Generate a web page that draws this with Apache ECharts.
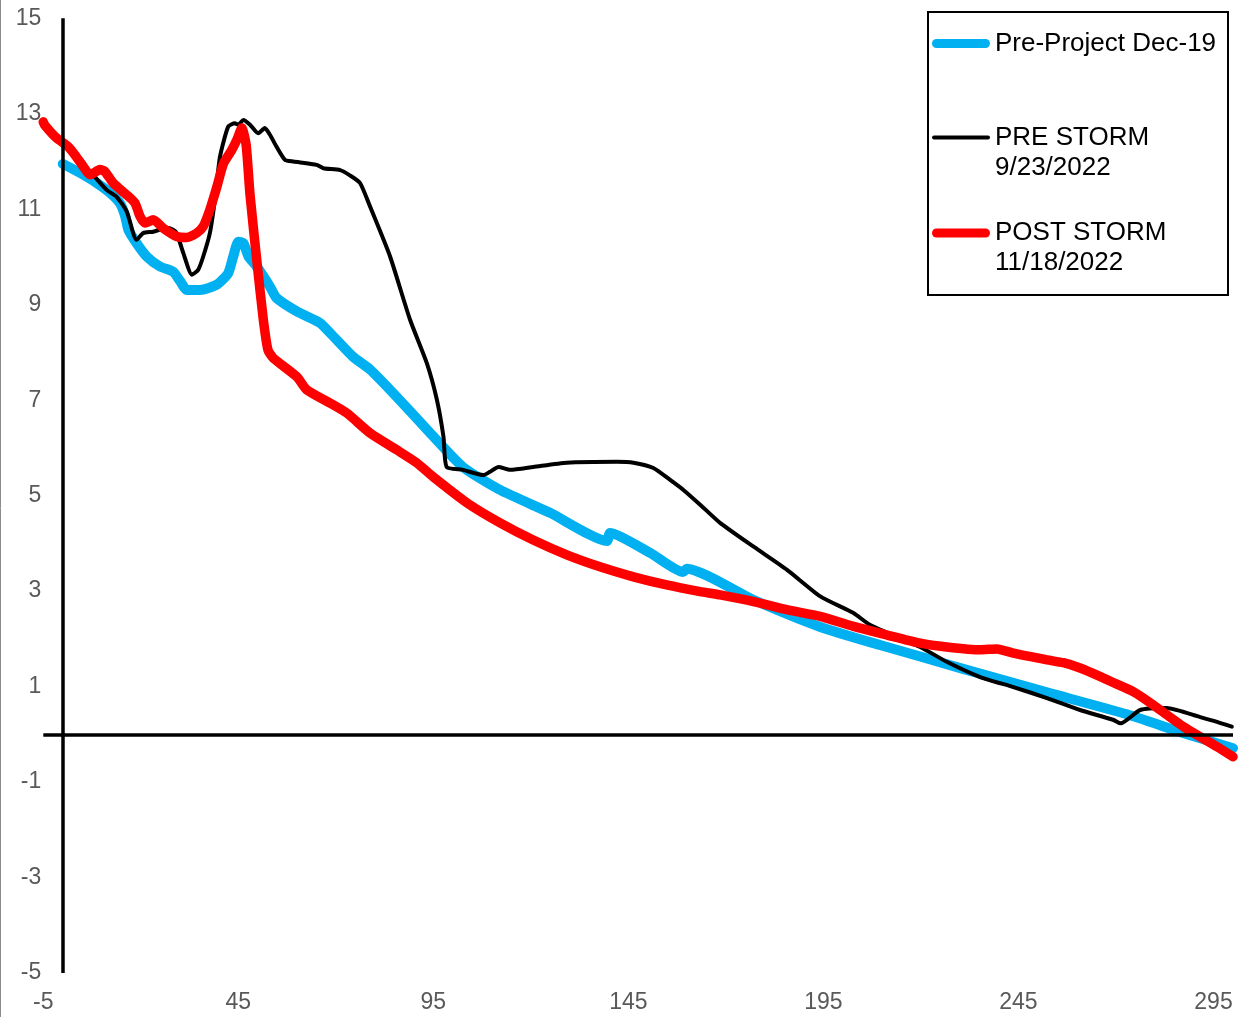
<!DOCTYPE html>
<html>
<head>
<meta charset="utf-8">
<script src="https://cdn.jsdelivr.net/npm/echarts@6/dist/echarts.min.js"></script>
<style>
html, body { margin: 0; padding: 0; background: #ffffff; }
#chart { width: 1242px; height: 1017px; }
</style>
</head>
<body>
<div id="chart"></div>
<script>
// ---- data ----
const xTickLabels = [-5, 45, 95, 145, 195, 245, 295];
const yTickLabels = [-5, -3, -1, 1, 3, 5, 7, 9, 11, 13, 15];

const seriesNames = ['Pre-Project Dec-19', 'PRE STORM\n9/23/2022', 'POST STORM\n11/18/2022'];
const seriesColors = ['#00B0F0', '#000000', '#FF0000'];

const preProject = [
  [0, 11.95], [4, 11.78], [8.7, 11.55], [12, 11.35], [14.7, 11.12], [16, 10.85], [16.8, 10.57],
  [18.9, 10.29], [21.5, 10.01], [24.9, 9.80], [28.3, 9.69], [30.1, 9.49], [31.8, 9.31], [35.2, 9.31],
  [39.5, 9.42], [42.4, 9.66], [43.7, 10.01], [45, 10.32], [46.3, 10.29], [47.6, 10.01], [49.7, 9.80],
  [53.1, 9.38], [54.8, 9.14], [60, 8.86], [65.9, 8.62], [68.5, 8.41], [74.4, 7.91], [78.8, 7.64],
  [85.6, 7.07], [94.2, 6.31], [102.6, 5.60], [112.1, 5.12], [124.9, 4.64], [139.5, 4.05], [140.3, 4.22],
  [150.6, 3.80], [159, 3.40], [160, 3.47], [177, 2.82], [194.2, 2.25], [209.5, 1.87], [219.8, 1.63],
  [230.8, 1.37], [252.3, 0.88], [272.8, 0.42], [287.2, 0.03], [300, -0.29]
];

const preStorm = [
  [8, 11.70], [11.3, 11.40], [13.8, 11.26], [16.4, 10.95], [18.9, 10.36],
  [20.6, 10.50], [23.2, 10.53], [26.6, 10.61], [28.3, 10.57], [29.2, 10.50], [30.9, 10.08], [33.1, 9.63],
  [34.7, 9.73], [36, 10.01], [37.7, 10.50], [39, 11.20], [40.3, 12.10], [42.4, 12.73], [44.1, 12.80],
  [45, 12.77], [46.3, 12.87], [48, 12.77], [50.1, 12.59], [51.8, 12.70], [53.1, 12.56], [54.8, 12.31],
  [57, 12.03], [59.1, 12.0], [65.1, 11.93], [66.8, 11.86], [71.1, 11.82], [73.6, 11.71], [76.2, 11.55],
  [78.8, 11.05], [83.9, 10.01], [89, 8.69], [93.3, 7.78], [95.9, 7.01], [97.6, 6.23], [98.4, 5.60],
  [102.6, 5.54], [107.8, 5.43], [109.5, 5.50], [111.7, 5.60], [114.7, 5.54], [120.6, 5.60], [129.2, 5.69],
  [142, 5.71], [146.3, 5.69], [151.4, 5.58], [155.7, 5.33], [159.1, 5.12], [163.4, 4.81], [168.5, 4.43],
  [177.1, 3.93], [185.6, 3.45], [194.2, 2.89], [202.7, 2.54], [207, 2.29], [219.8, 1.83], [226.6, 1.52],
  [235.2, 1.20], [243.7, 0.99], [252.3, 0.76], [260.8, 0.51], [269.4, 0.30], [271.2, 0.23], [276.2, 0.51],
  [283, 0.55], [291.6, 0.36], [295.9, 0.26], [299.7, 0.16]
];

const postStorm = [
  [-5, 12.83], [-4.6, 12.76], [-1.6, 12.49], [1.4, 12.31], [3.1, 12.14], [5.3, 11.89], [7, 11.72],
  [9.5, 11.83], [10.8, 11.79], [12.9, 11.55], [16.4, 11.30], [18.5, 11.13], [19.8, 10.85], [21.1, 10.71],
  [23.2, 10.78], [25.8, 10.60], [29.2, 10.43], [31.8, 10.41], [34.3, 10.50], [36, 10.64], [37.7, 10.99],
  [39.5, 11.47], [41.2, 11.96], [43.3, 12.24], [44.6, 12.45], [45.9, 12.70], [47, 12.35], [48, 11.3],
  [49.9, 9.8], [51.4, 8.69], [52.6, 8.05], [54, 7.88], [60, 7.49], [62.5, 7.22], [68.5, 6.94],
  [72.8, 6.73], [78.8, 6.31], [85.6, 5.96], [90.7, 5.69], [95, 5.39], [103.6, 4.85], [112.1, 4.43],
  [120.6, 4.07], [129.2, 3.76], [137.7, 3.51], [146.3, 3.30], [154.8, 3.13], [163.4, 2.99], [168.5, 2.92],
  [177.1, 2.78], [185.6, 2.61], [194.2, 2.47], [202.7, 2.26], [211.3, 2.08], [219.8, 1.91], [226.6, 1.83],
  [235.2, 1.77], [239.5, 1.79], [243.7, 1.70], [252.3, 1.56], [256.5, 1.50], [260.8, 1.39], [266, 1.21],
  [269.4, 1.08], [274.5, 0.89], [278.8, 0.66], [287.3, 0.16], [295.9, -0.26], [300, -0.47]
];

// ---- chart ----
const FONT = '"Liberation Sans", Arial, Helvetica, sans-serif';
const CAPSULE_THICK = 'path://M4.5,0 L53.5,0 A4.5,4.5 0 0 1 53.5,9 L4.5,9 A4.5,4.5 0 0 1 4.5,0 Z';
const CAPSULE_THIN = 'path://M2,0 L56,0 A2,2 0 0 1 56,4 L2,4 A2,2 0 0 1 2,0 Z';

function makeLegend(name, top, iconH, icon, extraLine) {
  return {
    data: [name],
    left: 932,
    top: top,
    padding: 0,
    orient: 'vertical',
    itemWidth: 58,
    itemHeight: iconH,
    icon: icon,
    selectedMode: false,
    itemStyle: { borderWidth: 0 },
    formatter: function (n) { return extraLine ? ' \n' + n : n; },
    textStyle: { fontFamily: FONT, fontSize: 26, color: '#000000', lineHeight: 30 }
  };
}

const chart = echarts.init(document.getElementById('chart'), null, { renderer: 'canvas' });

const lineWidths = [10, 4, 9.5];
const dataSets = [preProject, preStorm, postStorm];

const series = dataSets.map((d, i) => ({
  name: seriesNames[i],
  type: 'line',
  data: d,
  symbol: 'none',
  showSymbol: false,
  smooth: 0.2,
  z: 2 + i,
  color: seriesColors[i],
  itemStyle: { color: seriesColors[i] },
  lineStyle: { color: seriesColors[i], width: lineWidths[i], cap: 'round', join: 'round' },
  emphasis: { disabled: true }
}));

// zero lines (drawn like Excel axes crossing at 0)
series.push({
  name: 'axes',
  type: 'line',
  data: [],
  z: 10,
  silent: true,
  markLine: {
    silent: true,
    symbol: ['none', 'none'],
    label: { show: false },
    lineStyle: { color: '#000000', width: 3.5, type: 'solid' },
    emphasis: { disabled: true },
    data: [{ xAxis: 0 }, { yAxis: 0 }]
  }
});

chart.setOption({
  animation: false,
  backgroundColor: '#ffffff',
  textStyle: { fontFamily: FONT },
  grid: { left: 43.3, right: 9, top: 18.3, bottom: 44, containLabel: false },
  xAxis: {
    type: 'value',
    min: -5,
    max: 300,
    axisLine: { show: false },
    axisTick: { show: false },
    splitLine: { show: false },
    axisLabel: {
      customValues: xTickLabels,
      showMinLabel: true,
      showMaxLabel: true,
      fontFamily: FONT,
      fontSize: 23,
      color: '#595959',
      margin: 18
    }
  },
  yAxis: {
    type: 'value',
    min: -5,
    max: 15,
    axisLine: { show: false },
    axisTick: { show: false },
    splitLine: { show: false },
    axisLabel: {
      customValues: yTickLabels,
      showMinLabel: true,
      showMaxLabel: true,
      fontFamily: FONT,
      fontSize: 23,
      color: '#595959',
      margin: 2
    }
  },
  legend: [
    makeLegend(seriesNames[0], 28.5, 9, CAPSULE_THICK, false),
    makeLegend(seriesNames[1], 92.5, 4, CAPSULE_THIN, true),
    makeLegend(seriesNames[2], 188, 9, CAPSULE_THICK, true)
  ],
  graphic: [
    {
      type: 'rect',
      shape: { x: 928, y: 12, width: 300, height: 283 },
      style: { fill: 'none', stroke: '#000000', lineWidth: 2 },
      z: 20
    },
    {
      type: 'line',
      shape: { x1: 0.5, y1: 0, x2: 0.5, y2: 1017 },
      style: { stroke: '#8c8c8c', lineWidth: 1 },
      z: 20
    }
  ],
  series: series
});
</script>
</body>
</html>
